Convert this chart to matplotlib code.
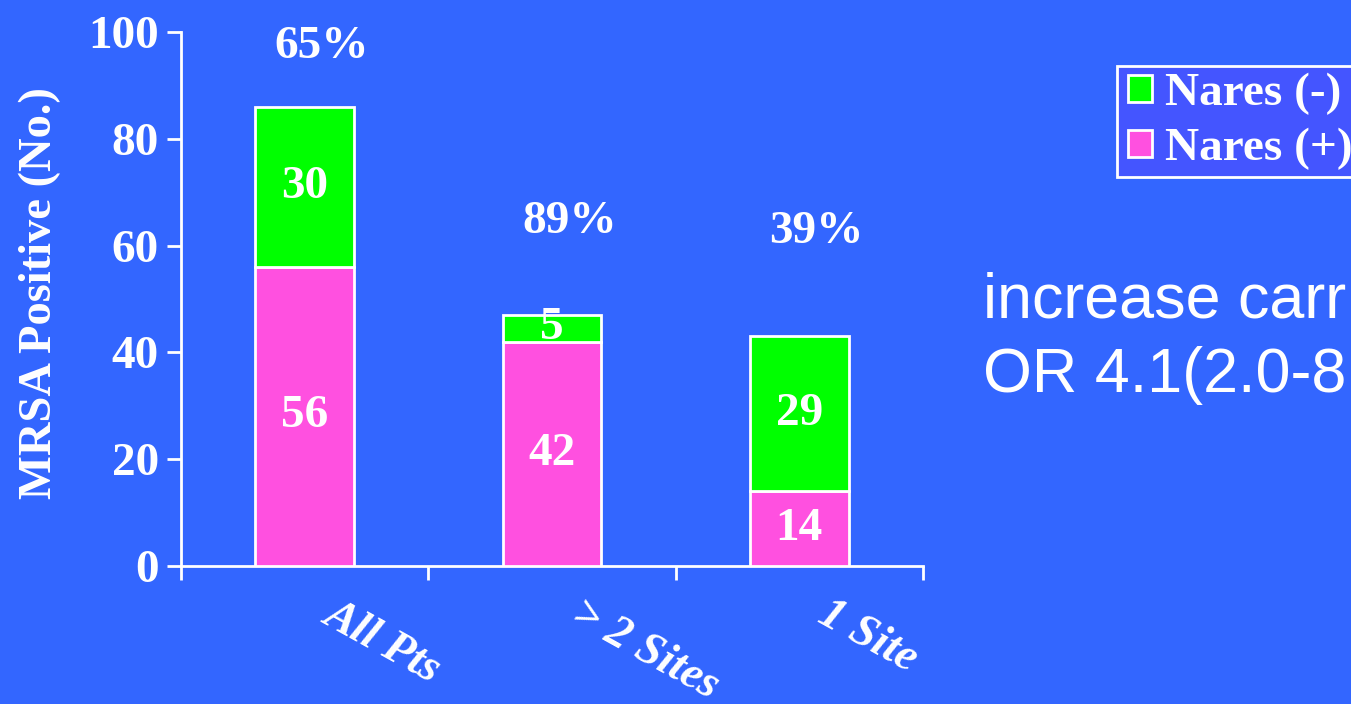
import matplotlib
matplotlib.use("Agg")
import matplotlib.pyplot as plt
from matplotlib.patches import Patch, Rectangle
from matplotlib.legend_handler import HandlerPatch

# Data
categories = ["All Pts", "> 2 Sites", "1 Site"]
nares_pos = [56, 42, 14]
nares_neg = [30, 5, 29]
pct_labels = ["65%", "89%", "39%"]
pct_heights = [97.2, 64.5, 62.5]
y_ticks = [0, 20, 40, 60, 80, 100]

BG = "#3366FF"
GREEN = "#00FF00"
PINK = "#FF50E0"
WHITE = "white"
SERIF = "Liberation Serif"
SIZE = 34

fig = plt.figure(figsize=(13.51, 7.04), dpi=100, facecolor=BG)
ax = fig.add_axes([181 / 1351, 1 - 566 / 704, (923 - 181) / 1351, (566 - 32) / 704])
ax.set_facecolor(BG)

x = [i + 0.5 for i in range(len(categories))]
width = 0.4
ax.bar(x, nares_pos, width, color=PINK, edgecolor=WHITE, linewidth=2, zorder=3)
ax.bar(x, nares_neg, width, bottom=nares_pos, color=GREEN, edgecolor=WHITE,
       linewidth=2, zorder=3)

# segment values
for xi, p, n in zip(x, nares_pos, nares_neg):
    ax.text(xi, p / 2, str(p), ha="center", va="center", color=WHITE,
            fontsize=SIZE, fontweight="bold", family=SERIF, zorder=4)
    ax.text(xi, p + n / 2, str(n), ha="center", va="center", color=WHITE,
            fontsize=SIZE, fontweight="bold", family=SERIF, zorder=4)

# percentages above bars
for xi, lab, h in zip(x, pct_labels, pct_heights):
    ax.text(xi + 0.07, h, lab, ha="center", va="center", color=WHITE,
            fontsize=SIZE, fontweight="bold", family=SERIF)

ax.set_xlim(0, 3)
ax.set_ylim(0, 100)
ax.set_xticks([0, 1, 2, 3])
ax.set_xticklabels([])
ax.set_yticks(y_ticks)
ax.set_yticklabels([str(t) for t in y_ticks], fontsize=SIZE, fontweight="bold",
                   family=SERIF, color=WHITE)
ax.tick_params(axis="both", colors=WHITE, width=2, length=10, direction="out")
ax.tick_params(axis="y", pad=6)
for side in ("top", "right"):
    ax.spines[side].set_visible(False)
for side in ("left", "bottom"):
    ax.spines[side].set_color(WHITE)
    ax.spines[side].set_linewidth(2)

# rotated category labels
for xi, cat in zip(x, categories):
    ax.text(xi + 0.13, -0.05, cat, transform=ax.get_xaxis_transform(),
            rotation=-29, rotation_mode="anchor", ha="left", va="top",
            color=WHITE, fontsize=33, fontweight="bold", fontstyle="italic",
            family=SERIF)

ax.set_ylabel("MRSA Positive (No.)", fontsize=33.5, fontweight="bold",
              family=SERIF, color=WHITE)
ax.yaxis.set_label_coords(-0.161, 0.511)


def inset_square(legend, orig_handle, xdescent, ydescent, width, height, fontsize):
    return Rectangle((-xdescent + 0.15 * width, -ydescent), 0.85 * width, height)


handles = [Patch(facecolor=GREEN, edgecolor=WHITE, linewidth=2),
           Patch(facecolor=PINK, edgecolor=WHITE, linewidth=2)]
leg = fig.legend(handles, ["Nares (-)", "Nares (+)"], loc="upper left",
                 bbox_to_anchor=(1117 / 1351, 1 - 66 / 704),
                 prop={"family": SERIF, "weight": "bold", "size": SIZE},
                 labelcolor=WHITE, facecolor="#4455FF", edgecolor=WHITE,
                 framealpha=1, fancybox=False, handlelength=0.6,
                 handleheight=0.5, handletextpad=0.27, labelspacing=0.27,
                 borderpad=0.14, borderaxespad=0,
                 handler_map={Patch: HandlerPatch(patch_func=inset_square)})
leg.get_frame().set_linewidth(2)

fig.text(983 / 1351, 1 - 318 / 704, "increase carr", color=WHITE,
         family="Liberation Sans", fontsize=45.3, va="baseline", ha="left")
fig.text(983 / 1351, 1 - 392 / 704, "OR 4.1(2.0-8", color=WHITE,
         family="Liberation Sans", fontsize=45.3, va="baseline", ha="left")

fig.savefig("out.png", dpi=100, facecolor=BG)
